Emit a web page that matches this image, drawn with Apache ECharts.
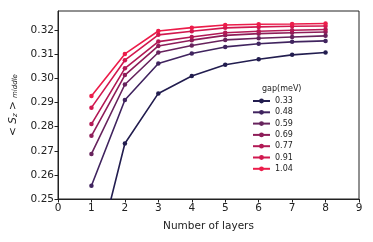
<!DOCTYPE html>
<html><head><meta charset="utf-8">
<script src="https://cdn.jsdelivr.net/npm/echarts@6/dist/echarts.min.js"></script>
<style>html,body{margin:0;padding:0;background:#fff}#c{width:373px;height:242px}</style>
</head><body><div id="c"></div>
<script>
const layers = [1, 2, 3, 4, 5, 6, 7, 8];
const gaps = ['0.33', '0.48', '0.59', '0.69', '0.77', '0.91', '1.04'];
const s033 = [0.2176, 0.2730, 0.2938, 0.3010, 0.3057, 0.3080, 0.3098, 0.3108];
const s048 = [0.2555, 0.2911, 0.3062, 0.3104, 0.3131, 0.3144, 0.3152, 0.3156];
const s059 = [0.2687, 0.2975, 0.3108, 0.3137, 0.3160, 0.3167, 0.3172, 0.3177];
const s069 = [0.2762, 0.3014, 0.3135, 0.3159, 0.3179, 0.3186, 0.3190, 0.3193];
const s077 = [0.2811, 0.3042, 0.3153, 0.3172, 0.3190, 0.3196, 0.3200, 0.3203];
const s091 = [0.2879, 0.3076, 0.3181, 0.3196, 0.3210, 0.3214, 0.3217, 0.3218];
const s104 = [0.2927, 0.3102, 0.3197, 0.3211, 0.3222, 0.3225, 0.3226, 0.3228];
const allSeries = [s033, s048, s059, s069, s077, s091, s104];
const colors = ['#221d4f', '#40245f', '#67235d', '#8e1d59', '#b21955', '#d1184f', '#ec1c4a'];
const yTicks = [0.25, 0.26, 0.27, 0.28, 0.29, 0.30, 0.31, 0.32];
const xTicks = [0, 1, 2, 3, 4, 5, 6, 7, 8, 9];

const font = 'DejaVu Sans';
const chart = echarts.init(document.getElementById('c'), null, {renderer: 'canvas'});
chart.setOption({
  animation: false,
  color: colors,
  textStyle: {fontFamily: font},
  title: {text: 'gap(meV)', left: 257, top: 80,
    textStyle: {fontFamily: font, fontSize: 8, fontWeight: 'normal', color: '#222'}},
  legend: {
    orient: 'vertical', left: 247, top: 92,
    itemWidth: 17, itemHeight: 6, itemGap: 3.3,
    textStyle: {fontFamily: font, fontSize: 8, color: '#222'},
    data: gaps
  },
  grid: {left: 58, right: 14, top: 11, bottom: 43, show: true, borderColor: '#222', borderWidth: 1},
  xAxis: {
    type: 'value', min: 0, max: 9, interval: 1,
    name: 'Number of layers', nameLocation: 'middle', nameGap: 22,
    nameTextStyle: {fontFamily: font, fontSize: 10.5, color: '#222'},
    axisLine: {onZero: false, lineStyle: {color: '#222', width: 1}},
    axisTick: {show: true, length: 3.5, lineStyle: {color: '#222'}, customValues: xTicks},
    axisLabel: {fontFamily: font, fontSize: 10.5, color: '#222', margin: 4, customValues: xTicks},
    splitLine: {show: false}
  },
  yAxis: {
    type: 'value', min: 0.25, max: 0.328, interval: 0.01,
    name: '< {i|S}{sub|z} > {sub|middle}', nameLocation: 'middle', nameGap: 39,
    nameTextStyle: {fontFamily: font, fontSize: 10.5, color: '#222',
      rich: {
        i: {fontFamily: font, fontSize: 10.5, fontStyle: 'italic', color: '#222'},
        sub: {fontFamily: font, fontSize: 7, fontStyle: 'italic', color: '#222', verticalAlign: 'bottom', padding: [4, 0, 0, 0]}
      }},
    axisLine: {show: true, lineStyle: {color: '#222', width: 1}},
    axisTick: {show: true, length: 3.5, lineStyle: {color: '#222'}, customValues: yTicks},
    axisLabel: {fontFamily: font, fontSize: 10.5, color: '#222', margin: 4, customValues: yTicks,
      formatter: v => v.toFixed(2)},
    splitLine: {show: false}
  },
  series: allSeries.map((arr, k) => ({
    name: gaps[k], type: 'line',
    data: layers.map((x, i) => [x, arr[i]]),
    symbol: 'circle', symbolSize: 4.5,
    lineStyle: {width: 1.6, color: colors[k]},
    itemStyle: {color: colors[k]},
    clip: true
  }))
});
</script></body></html>
